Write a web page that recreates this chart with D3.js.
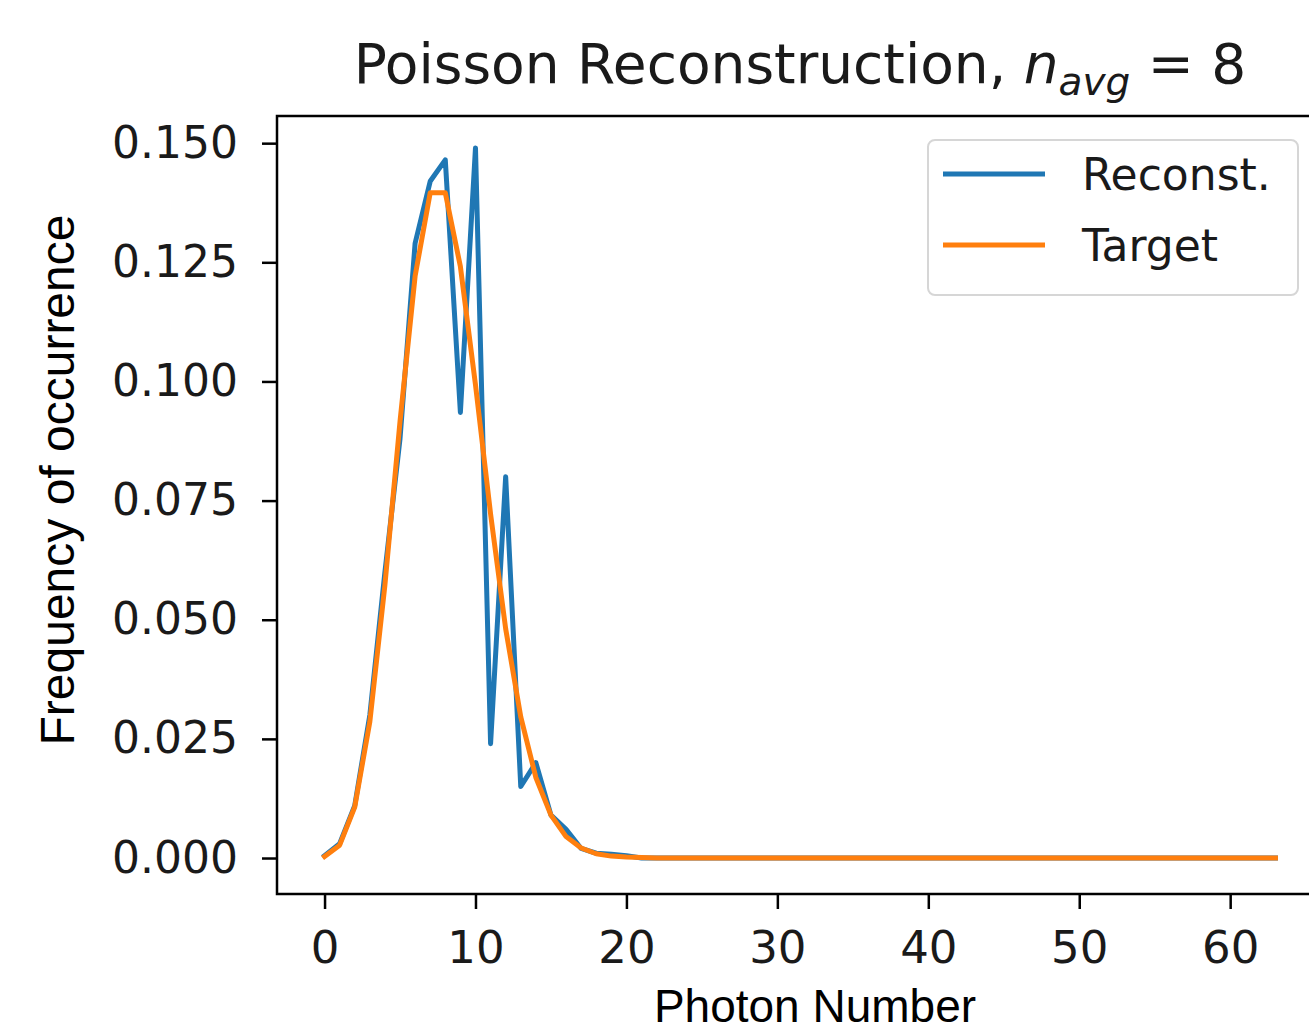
<!DOCTYPE html>
<html>
<head>
<meta charset="utf-8">
<script src="https://d3js.org/d3.v7.min.js"></script>
<style>
  body { margin: 0; background: #fff; overflow: hidden; }
  text { font-family: "DejaVu Sans", sans-serif; fill: #1a1a1a; }
  .lab { font-family: "Liberation Sans", Arial, sans-serif; fill: #000; }
</style>
</head>
<body>
<div id="chart"></div>
<script>
// photon numbers 0..63
var photon = d3.range(0, 64);
// reconstructed distribution
var reconst = [0.0005, 0.003, 0.011, 0.030, 0.060, 0.088, 0.129, 0.142, 0.1465, 0.0935,
  0.149, 0.024, 0.080, 0.015, 0.020, 0.009, 0.006, 0.002, 0.001, 0.0008, 0.0005];
// target distribution, Poisson with mean 8
var target = [0.0003, 0.0027, 0.0107, 0.0286, 0.0573, 0.0916, 0.1221, 0.1396, 0.1396, 0.1241,
  0.0993, 0.0722, 0.0481, 0.0296, 0.0169, 0.0090, 0.0045, 0.0021, 0.0009, 0.0004, 0.0002, 0.0001];
var xTicks = [0, 10, 20, 30, 40, 50, 60];
var yTicks = [0, 0.025, 0.05, 0.075, 0.1, 0.125, 0.15];
var seriesNames = ["Reconst.", "Target"];
var colors = ["#1f77b4", "#ff7f0e"];

var width = 1309, height = 1034;
// the axes box runs past the right edge of the picture
var margin = { left: 277, right: 1323, top: 116, bottom: 894 };

var svg = d3.select("#chart").append("svg")
  .attr("width", width).attr("height", height)
  .style("display", "block");

var x = d3.scaleLinear().domain([-3.15, 66.15]).range([margin.left, margin.right]);
var y = d3.scaleLinear().domain([-0.00755, 0.1557]).range([margin.bottom, margin.top]);

function full(arr) {
  return photon.map(function (k) { return { k: k, v: k < arr.length ? arr[k] : 0 }; });
}

var line = d3.line().x(function (d) { return x(d.k); }).y(function (d) { return y(d.v); });

svg.append("defs").append("clipPath").attr("id", "clip")
  .append("rect").attr("x", margin.left).attr("y", margin.top)
  .attr("width", margin.right - margin.left).attr("height", margin.bottom - margin.top);

var plot = svg.append("g").attr("clip-path", "url(#clip)");
[reconst, target].forEach(function (arr, i) {
  plot.append("path")
    .datum(full(arr))
    .attr("d", line)
    .attr("fill", "none")
    .attr("stroke", colors[i])
    .attr("stroke-width", 5)
    .attr("stroke-linejoin", "round")
    .attr("stroke-linecap", "square");
});

// axes
var xAxis = d3.axisBottom(x).tickValues(xTicks).tickSize(15).tickPadding(22).tickFormat(d3.format("d"));
var gx = svg.append("g").attr("transform", "translate(0," + margin.bottom + ")").call(xAxis);
gx.select(".domain").remove();
gx.selectAll("line").attr("stroke", "#000").attr("stroke-width", 2.5);
gx.selectAll("text").style("font-size", "45px").attr("fill", "#1a1a1a");

var yAxis = d3.axisLeft(y).tickValues(yTicks).tickSize(15).tickPadding(24).tickFormat(d3.format(".3f"));
var gy = svg.append("g").attr("transform", "translate(" + margin.left + ",0)").call(yAxis);
gy.select(".domain").remove();
gy.selectAll("line").attr("stroke", "#000").attr("stroke-width", 2.5);
gy.selectAll("text").style("font-size", "44px").attr("fill", "#1a1a1a");

// frame: left, top and bottom spines (right one is off the picture)
svg.append("path")
  .attr("d", "M" + width + "," + margin.top + "H" + margin.left + "V" + margin.bottom + "H" + width)
  .attr("fill", "none").attr("stroke", "#000").attr("stroke-width", 2.5);

// title
var title = svg.append("text")
  .attr("x", (margin.left + margin.right) / 2).attr("y", 83)
  .attr("text-anchor", "middle")
  .style("font-size", "55px");
title.append("tspan").text("Poisson Reconstruction, ");
title.append("tspan").style("font-style", "italic").text("n");
title.append("tspan").style("font-style", "italic").style("font-size", "39px").attr("dy", 12).text("avg");
title.append("tspan").attr("dy", -12).text(" = 8");

// axis labels
svg.append("text").attr("class", "lab")
  .attr("x", 815).attr("y", 1022)
  .attr("text-anchor", "middle")
  .style("font-size", "46px")
  .text("Photon Number");

svg.append("text").attr("class", "lab")
  .attr("transform", "translate(74,480) rotate(-90)")
  .attr("text-anchor", "middle")
  .style("font-size", "48px")
  .text("Frequency of occurrence");

// legend
var lg = svg.append("g");
lg.append("rect")
  .attr("x", 928).attr("y", 140).attr("width", 370).attr("height", 155)
  .attr("rx", 7)
  .attr("fill", "#fff").attr("fill-opacity", 0.8)
  .attr("stroke", "#d6d6d6").attr("stroke-width", 2);
seriesNames.forEach(function (name, i) {
  var yy = 174 + i * 71;
  lg.append("line")
    .attr("x1", 943).attr("x2", 1045).attr("y1", yy).attr("y2", yy)
    .attr("stroke", colors[i]).attr("stroke-width", 5);
  lg.append("text")
    .attr("x", 1082).attr("y", yy + 16)
    .style("font-size", "44px")
    .text(name);
});
</script>
</body>
</html>
